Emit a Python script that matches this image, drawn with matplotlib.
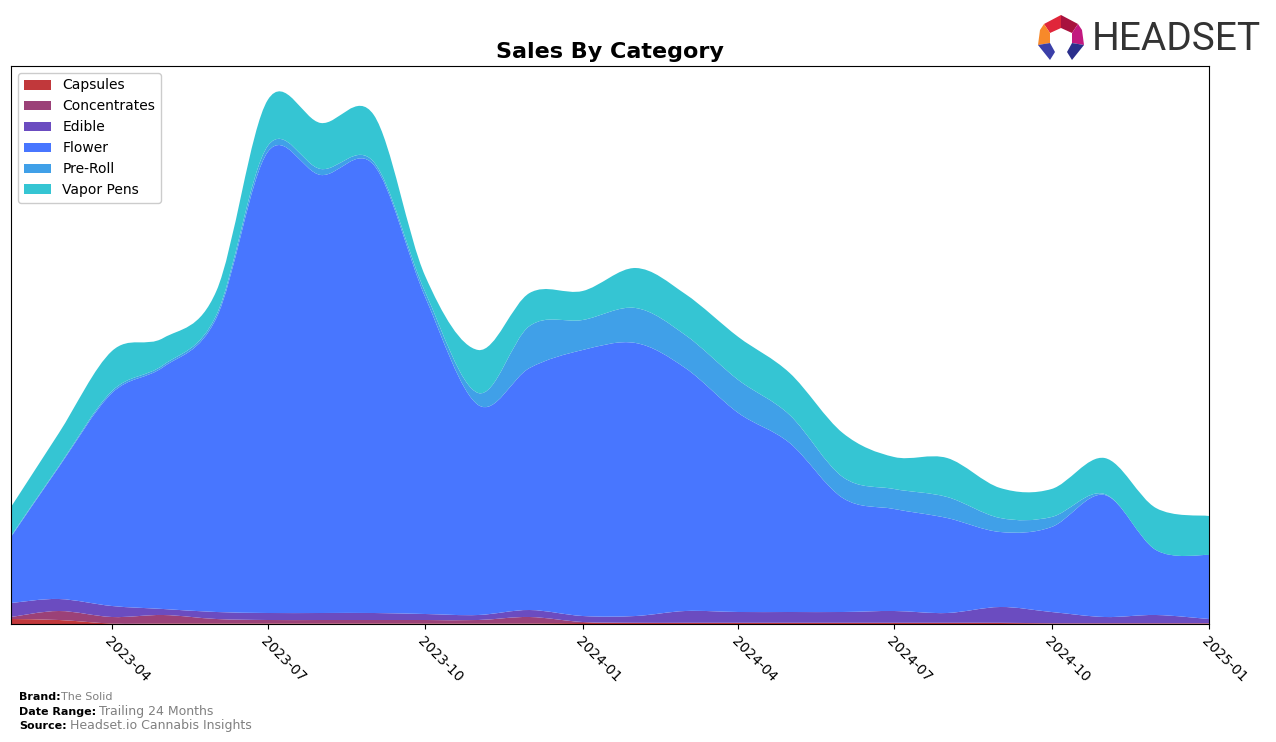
import numpy as np
import pandas as pd
import matplotlib
matplotlib.use("Agg")
from matplotlib import pyplot as plt
import matplotlib.dates as mdates
from matplotlib.path import Path
from matplotlib.patches import PathPatch, Patch, Polygon

# monthly sales by category (arbitrary units)
months = pd.date_range("2023-02-01", periods=24, freq="MS")
categories = ["Capsules", "Concentrates", "Edible", "Flower", "Pre-Roll", "Vapor Pens"]
capsules = [5, 4, 0.5, 0.5, 0.5, 0.5, 0.5, 0.5, 0.5, 0.5, 0.5, 1,
            1, 1, 1, 1, 1, 1, 1, 1, 0.5, 0.5, 0.5, 0.5]
concentrates = [2, 9, 6.5, 8.5, 4.5, 3.5, 3.5, 3.5, 3.5, 3.5, 6.5, 1,
                0.2, 0.2, 0.2, 0.2, 0.2, 0.2, 0.2, 0.2, 0.3, 0.3, 0.3, 0.3]
edible = [14, 12, 11, 6, 7, 7, 7, 7, 6, 5, 7, 6,
          6.8, 11.8, 10.8, 10.8, 10.8, 11.8, 9.8, 15.8, 11.2, 6.2, 8.2, 4.2]
flower = [66, 132, 213, 242, 294, 461, 438, 448, 317, 210, 242, 266,
          273, 243, 199, 169, 114, 102, 95, 75, 85, 122, 65, 64]
preroll = [1, 1, 2, 2, 3, 6, 6, 3, 5, 12, 42, 30,
           35, 33, 33, 28, 21, 20, 21, 14, 10, 1, 0, 0]
vapor = [29, 33, 40, 27, 24, 46, 46, 47, 16, 43, 33, 29,
         40, 41, 43, 42, 44, 32, 39, 30, 28, 36, 42, 39]

colors = ["#c1383b", "#9b4178", "#6b4cc0", "#4876ff", "#40a0e8", "#35c5d3"]


def smooth_verts(x, y):
    # catmull-rom curve through the points, as cubic bezier segments
    pts = np.column_stack([x, y])
    n = len(pts)
    verts = [pts[0]]
    for k in range(n - 1):
        p0 = pts[max(k - 1, 0)]
        p1 = pts[k]
        p2 = pts[k + 1]
        p3 = pts[min(k + 2, n - 1)]
        verts += [p1 + (p2 - p0) / 6.0, p2 - (p3 - p1) / 6.0, p2]
    return verts


fig = plt.figure(figsize=(12.76, 7.42), dpi=100)
ax = fig.add_axes([11 / 1276, 1 - 624 / 742, 1198 / 1276, 558 / 742])

x = mdates.date2num(months)
series = [capsules, concentrates, edible, flower, preroll, vapor]
lower = np.zeros(len(x))
for vals, col in zip(series, colors):
    upper = lower + np.array(vals, dtype=float)
    top = smooth_verts(x, upper)
    bot = smooth_verts(x[::-1], lower[::-1])
    verts = top + bot + [top[0]]
    codes = ([Path.MOVETO] + [Path.CURVE4] * (len(top) - 1)
             + [Path.LINETO] + [Path.CURVE4] * (len(bot) - 1) + [Path.CLOSEPOLY])
    ax.add_patch(PathPatch(Path(verts, codes), facecolor=col, edgecolor="none"))
    lower = upper

ax.set_xlim(x[0], x[-1])
ax.set_ylim(0, 558)
ax.set_yticks([])
ax.xaxis.set_major_locator(mdates.MonthLocator(bymonth=[1, 4, 7, 10]))
ax.xaxis.set_major_formatter(mdates.DateFormatter("%Y-%m"))
plt.setp(ax.get_xticklabels(), rotation=-45, ha="left", rotation_mode="anchor", fontsize=10)
ax.set_title("Sales By Category", fontsize=16, fontweight="bold", pad=6)

handles = [Patch(facecolor=c, label=l) for c, l in zip(colors, categories)]
ax.legend(handles=handles, loc="upper left", fontsize=10, framealpha=1)

# footer
fig.text(19 / 1276, 1 - 697 / 742, "Brand:", fontsize=8, fontweight="bold", va="center")
fig.text(61 / 1276, 1 - 697 / 742, "The Solid", fontsize=8, color="gray", va="center")
fig.text(19 / 1276, 1 - 712 / 742, "Date Range:", fontsize=8, fontweight="bold", va="center")
fig.text(99 / 1276, 1 - 712 / 742, "Trailing 24 Months", fontsize=9, color="gray", va="center")
fig.text(19 / 1276, 1 - 726 / 742, "Source:", fontsize=8, fontweight="bold", va="center")
fig.text(70 / 1276, 1 - 726 / 742, "Headset.io Cannabis Insights", fontsize=9, color="gray", va="center")

# logo
fig.text(1092 / 1276, 1 - 39 / 742, "HEADSET", fontsize=28, color="#333333",
         va="center", ha="left", family=["Roboto", "DejaVu Sans"])


def px(pts):
    return [(a / 1276, 1 - b / 742) for a, b in pts]


logo_parts = [
    ([(1044, 24), (1061, 15), (1061, 28), (1050, 33)], "#e0263a"),
    ([(1061, 15), (1078, 24), (1072, 33), (1061, 28)], "#a8123e"),
    ([(1044, 24), (1050, 33), (1050, 43), (1038, 45), (1040, 30)], "#f7892a"),
    ([(1078, 24), (1082, 30), (1084, 45), (1072, 43), (1072, 33)], "#c2187f"),
    ([(1038, 45), (1050, 43), (1055, 52), (1050, 60)], "#3b3fa8"),
    ([(1084, 45), (1072, 43), (1067, 52), (1072, 60)], "#2b2f8c"),
]
for pts, col in logo_parts:
    fig.patches.append(Polygon(px(pts), closed=True, facecolor=col, edgecolor="none",
                               transform=fig.transFigure, figure=fig))

fig.savefig("out.png", dpi=100)
